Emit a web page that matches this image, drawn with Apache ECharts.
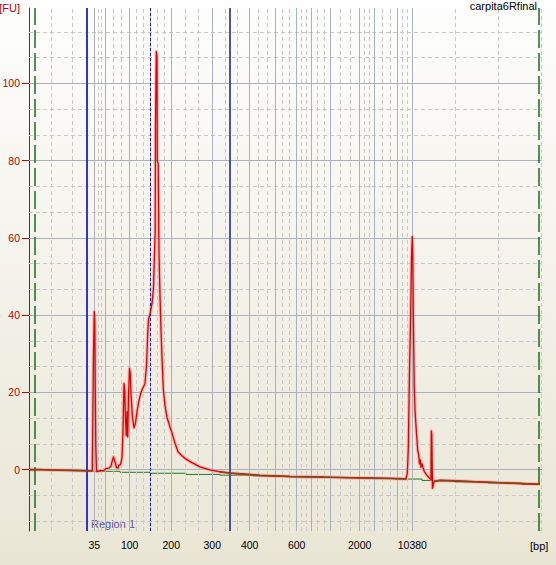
<!DOCTYPE html>
<html><head><meta charset="utf-8">
<script src="https://cdn.jsdelivr.net/npm/echarts@6/dist/echarts.min.js"></script>
<style>html,body{margin:0;padding:0;background:#fff}#c{width:556px;height:565px}</style>
</head><body><div id="c"></div>
<script>
// ---- data ----
const ladderSizes = [35, 50, 100, 150, 200, 300, 400, 500, 600, 700, 1000, 2000, 3000, 7000, 10380];
const ladderTimes = [33.06, 35.26, 40.14, 44.26, 48.46, 56.66, 64.14, 69.34, 73.54, 76.46, 80.26, 86.14, 89.14, 93.74, 96.66];
const labeledSizes = [35, 100, 200, 300, 400, 600, 2000, 10380];
const yTickValues = [0, 20, 40, 60, 80, 100];

const signalTime = [20.2, 22.2, 24.2, 28.2, 31.6, 32.66, 32.8, 32.9, 33.06, 33.16, 33.26, 33.36, 33.5, 33.6,
  34.2, 35.0, 35.4, 36.0, 36.4, 36.7, 36.9, 37.2, 37.5, 37.8, 38.0, 38.3, 38.6, 38.8, 39.0, 39.14, 39.3,
  39.46, 39.6, 39.74, 39.9, 40.1, 40.26, 40.4, 40.7, 41.0, 41.3, 41.6, 42.0, 42.4, 42.8, 43.2, 43.5, 43.74,
  43.9, 44.2, 44.6, 44.9, 45.1, 45.24, 45.3, 45.46, 45.6, 45.66, 45.84, 46.0, 46.2, 46.4, 46.6, 46.86, 47.2,
  47.6, 48.2, 48.6, 49.2, 49.8, 50.6, 51.4, 52.6, 54.2, 56.2, 58.2, 60.2, 62.2, 64.2, 66.2, 68.2, 72.2, 76.2,
  80.2, 84.2, 88.2, 92.2, 95.4, 95.66, 95.86, 96.06, 96.34, 96.5, 96.66, 96.76, 96.86, 97.04, 97.2, 97.54,
  97.74, 97.94, 98.1, 98.26, 98.4, 98.6, 98.8, 99.06, 99.54, 100.06, 100.4, 100.46, 100.56, 100.7, 101.0,
  102.2, 106.2, 110.2, 114.2, 118.2, 122.2];
const signalFU = [0.0, 0.0, -0.1, -0.2, -0.3, -0.3, 18, 30, 40.9, 38, 20, 6, 0, -0.5,
  -0.3, -0.2, 0.3, 0.4, 0.9, 2.5, 3.3, 2.0, 0.5, 0.4, 1.2, 1.3, 3, 10, 22.3, 20.5, 13,
  8.8, 15, 8.5, 19, 26.2, 25, 19.5, 13.5, 10.8, 12, 15, 18, 20, 21.2, 22.3, 27, 35,
  38.8, 40.3, 43, 47, 56, 62, 89, 108.2, 107, 80, 79, 56, 45, 36, 29, 21, 16.5,
  13.5, 11, 9.5, 6.8, 4.6, 3.6, 2.7, 1.8, 0.7, -0.1, -0.6, -0.9, -1.1, -1.3, -1.5, -1.6, -1.8, -1.9,
  -2.0, -2.1, -2.2, -2.3, -2.4, -1, 5.5, 22.4, 40.5, 55, 60.3, 55, 40.5, 22, 15.4, 8.5,
  5, 3.8, 1.5, 2.5, 0.6, 1.5, 0.5, -0.5, -1.4, -2.2, -2.6, 10.0, 9, -4.8, -3.1,
  -2.8, -3.0, -3.2, -3.4, -3.6, -3.8];

const baselineTime = [20.2, 24.2, 31.6, 38.2, 44.2, 51.4, 58.2, 64.8, 72.2, 79.2, 86.2, 93.2, 98.6, 105.2, 111.8, 118.6, 122.2];
const baselineFU = [0.0, -0.2, -0.45, -0.7, -0.95, -1.25, -1.45, -1.65, -1.85, -2.05, -2.25, -2.45, -2.8, -3.2, -3.5, -3.8, -3.8];

const regionTimes = [31.6, 44.26, 60.2];   // region start, marker, region end
const markerTimes = [21.06, 121.94];       // lower / upper marker lines
// stretches where the trace lies on the baseline (drawn brown)
const flatRanges = [[20, 32.66], [58.2, 95.4], [101.0, 122.6]];

// ---- axis ranges ----
const X_MIN = 20, X_MAX = 122.54, Y_MIN = -15.9, Y_MAX = 119.5;
const FONT = '"Liberation Sans", Arial, sans-serif';
const RED = '#e00000', BROWN = '#8a4516';

const labeledTimes = labeledSizes.map(s => ladderTimes[ladderSizes.indexOf(s)]);
function sizeFor(v) {
  let best = 0, d = Infinity;
  ladderTimes.forEach((t, i) => { const e = Math.abs(t - v); if (e < d) { d = e; best = i; } });
  return String(ladderSizes[best]);
}
const inFlat = t => flatRanges.some(r => t >= r[0] && t <= r[1]);

// grid lines
const solidV = { color: '#aab0bd', width: 1, type: 'solid' };
const dashV = { color: '#c8c8c8', width: 1, type: [4, 3] };
const gridLines = [];
const edges = [X_MIN, ...ladderTimes, X_MAX];
for (let i = 0; i < edges.length - 1; i++) {
  const a = edges[i], b = edges[i + 1];
  gridLines.push({ xAxis: a + (b - a) / 3, lineStyle: dashV });
  gridLines.push({ xAxis: a + 2 * (b - a) / 3, lineStyle: dashV });
}
gridLines.push({ xAxis: X_MAX, lineStyle: dashV });
for (let k = -2; k <= 17; k++) {
  if (k % 3 !== 0) gridLines.push({ yAxis: k * 20 / 3, lineStyle: dashV });
}
ladderTimes.forEach(t => gridLines.push({ xAxis: t, lineStyle: solidV }));
yTickValues.forEach(v => gridLines.push({ yAxis: v, lineStyle: solidV }));

const markerLines = [
  { xAxis: markerTimes[0], lineStyle: { color: '#1d6e1d', width: 1.5, type: [18, 5] } },
  { xAxis: markerTimes[1], lineStyle: { color: '#1d6e1d', width: 1.5, type: [18, 5] } },
  { xAxis: regionTimes[0], lineStyle: { color: '#3434c8', width: 2, type: 'solid' } },
  { xAxis: regionTimes[1], lineStyle: { color: '#1c1cb0', width: 1, type: [3, 2] } },
  { xAxis: regionTimes[2], lineStyle: { color: '#4f4fae', width: 2, type: 'solid' } }
];

const signalData = signalTime.map((t, i) => [t, signalFU[i]]);
const flatData = signalTime.map((t, i) => inFlat(t) ? [t, signalFU[i]] : [t, null]);

const chart = echarts.init(document.getElementById('c'), null, { renderer: 'svg' });
chart.setOption({
  animation: false,
  backgroundColor: { type: 'linear', x: 0, y: 0, x2: 0, y2: 1,
    colorStops: [{ offset: 0, color: '#fefefe' }, { offset: 1, color: '#e9e6d5' }] },
  title: { text: 'carpita6Rfinal', right: 19, top: 0, padding: 0,
    textStyle: { fontSize: 11, fontWeight: 'normal', color: '#000', fontFamily: FONT } },
  grid: { left: 29, right: 14.3, top: 8, bottom: 34, containLabel: false, outerBoundsMode: 'none' },
  xAxis: {
    type: 'value', min: X_MIN, max: X_MAX,
    axisLine: { show: true, lineStyle: { color: '#000', width: 1 } },
    axisTick: { show: true, customValues: ladderTimes, length: 5, lineStyle: { color: '#000' } },
    axisLabel: { customValues: labeledTimes, formatter: v => sizeFor(v), color: '#000', fontSize: 10.5, fontFamily: FONT, margin: 8 },
    splitLine: { show: false }
  },
  yAxis: {
    type: 'value', min: Y_MIN, max: Y_MAX,
    name: '[FU]', nameLocation: 'end', nameGap: 0,
    nameTextStyle: { color: '#c00000', fontSize: 11, fontFamily: FONT, align: 'right', verticalAlign: 'middle', padding: [0, 9, 0, 0] },
    axisLine: { show: true, lineStyle: { color: '#cc0000', width: 1 } },
    axisTick: { show: true, customValues: yTickValues, length: 7, lineStyle: { color: '#cc0000' } },
    axisLabel: { customValues: yTickValues, color: '#c00000', fontSize: 10.5, fontFamily: FONT, margin: 9 },
    splitLine: { show: false }
  },
  graphic: [
    { type: 'text', left: 91, top: 518, style: { text: 'Region 1', fill: '#5656aa', font: '11px ' + FONT } },
    { type: 'text', left: 530, top: 540, style: { text: '[bp]', fill: '#000', font: '11px ' + FONT } }
  ],
  series: [
    { type: 'line', data: [[X_MIN, 0]], symbol: 'none', lineStyle: { opacity: 0 }, silent: true, z: 1,
      markLine: { symbol: ['none', 'none'], silent: true, label: { show: false }, data: gridLines } },
    { type: 'line', data: [[X_MIN, 0]], symbol: 'none', lineStyle: { opacity: 0 }, silent: true, z: 2,
      markLine: { symbol: ['none', 'none'], silent: true, label: { show: false }, data: markerLines } },
    { name: 'baseline', type: 'line', step: 'end', symbol: 'none', z: 3,
      data: baselineTime.map((t, i) => [t, baselineFU[i]]),
      lineStyle: { color: '#1f7a1f', width: 1 } },
    { name: 'signal halo', type: 'line', symbol: 'none', z: 4, data: signalData, silent: true,
      lineStyle: { color: 'rgba(255,120,120,0.45)', width: 3.6, join: 'round' } },
    { name: 'signal', type: 'line', symbol: 'none', z: 5, data: signalData,
      lineStyle: { color: RED, width: 1.3, join: 'round' } },
    { name: 'signal (on baseline)', type: 'line', symbol: 'none', z: 6, data: flatData, connectNulls: false,
      lineStyle: { color: BROWN, width: 1.6 } }
  ]
});
</script></body></html>
